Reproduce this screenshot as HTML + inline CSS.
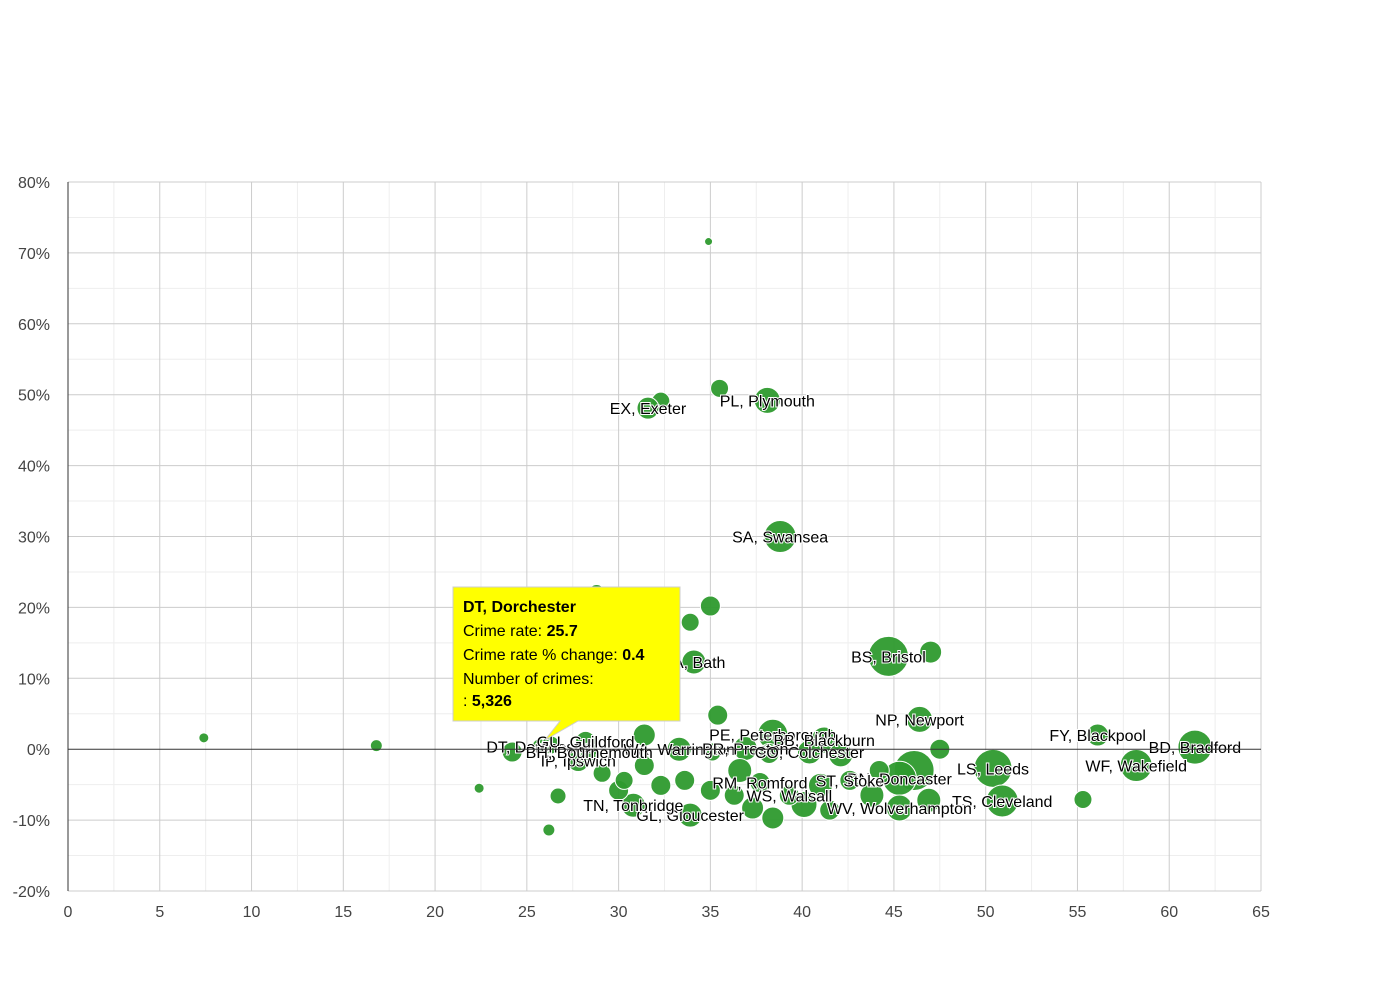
<!DOCTYPE html>
<html><head><meta charset="utf-8"><style>
body{margin:0;background:#fff;font-family:"Liberation Sans",Arial,sans-serif}
svg text{font-family:"Liberation Sans",Arial,sans-serif}
</style></head><body>
<svg id="chart" width="1390" height="980" xmlns="http://www.w3.org/2000/svg">
<g id="grid"></g>
<g id="bubbles"></g>
<g id="labels"></g>
<g id="axes"></g>
<g>
<path d="M453,587 H680 V721 H578 L545,740 L560,721 H453 Z" fill="#ffff00" stroke="#ccc" stroke-width="1"/>
<text x="463" y="612" font-size="16" font-weight="bold">DT, Dorchester</text>
<text x="463" y="636" font-size="16">Crime rate: <tspan font-weight="bold">25.7</tspan></text>
<text x="463" y="660" font-size="16">Crime rate % change: <tspan font-weight="bold">0.4</tspan></text>
<text x="463" y="684" font-size="16">Number of crimes:</text>
<text x="463" y="706" font-size="16">: <tspan font-weight="bold">5,326</tspan></text>
</g>
</svg>
<script>
const crimeRate=[7.4,16.8,22.4,26.2,26.7,25.7,24.2,28.8,35,33.9,34.1,35.5,34.9,32.3,31.6,38.1,38.8,44.7,47,46.4,47.5,56.1,61.4,58.2,50.4,50.9,55.3,35.4,31.4,38.4,41.2,33.3,35.1,36.9,38.2,40.4,42.1,46.1,45.3,43.8,45.3,46.9,40.1,38.4,37.3,33.9,30.8,30,27.8,28.2,29.1,30.3,31.4,32.3,33.6,35,36.3,37.7,39.3,41,42.6,44.2,26.3,28.4,41.5,36.6];
const pctChange=[1.6,0.5,-5.5,-11.4,-6.6,0.4,-0.4,22.1,20.2,17.9,12.3,50.9,71.6,49.1,48.1,49.2,30,13.1,13.7,4.2,0,2,0.3,-2.3,-2.7,-7.3,-7.1,4.8,2,2.1,1.3,0,-0.4,0.1,-0.6,-0.4,-0.8,-3,-4.1,-6.5,-8.3,-7.2,-7.8,-9.7,-8.3,-9.3,-7.9,-5.8,-1.6,1.1,-3.4,-4.4,-2.3,-5.1,-4.4,-5.8,-6.5,-4.7,-6.5,-5.1,-4.4,-3,0.6,-0.4,-8.6,-3];
const crimes=[2080,3000,2080,3000,5330,5326,8320,5330,8320,6740,11990,6740,1330,6740,10070,14070,21310,33300,10070,14070,8320,10070,24060,21310,30050,21310,6740,8320,10070,18730,14070,11990,6740,11990,8320,11990,11990,33300,24060,11990,14070,11990,14070,10070,10070,11990,11990,8320,10070,8320,6740,6740,8320,8320,8320,8320,8320,8320,8320,11990,8320,8320,6740,6740,8320,11990];
const names=["","","","","","DT, Dorchester","","","","","BA, Bath","","","","EX, Exeter","PL, Plymouth","SA, Swansea","BS, Bristol","","NP, Newport","","FY, Blackpool","BD, Bradford","WF, Wakefield","LS, Leeds","TS, Cleveland","","","","PE, Peterborough","BB, Blackburn","WA, Warrington","","PR, Preston","","CO, Colchester","","","DN, Doncaster","","WV, Wolverhampton","","","","","GL, Gloucester","TN, Tonbridge","","IP, Ipswich","GU, Guildford","","","","","","","","RM, Romford","WS, Walsall","","ST, Stoke","","","BH, Bournemouth","",""];
const xTicks=[0,5,10,15,20,25,30,35,40,45,50,55,60,65];
const yTicks=[80,70,60,50,40,30,20,10,0,-10,-20];
const yLabels=["80%","70%","60%","50%","40%","30%","20%","10%","0%","-10%","-20%"];
const X0=68,X1=1261,Y0=891,Y1=182;
const xs=v=>X0+(v-0)/65*(X1-X0);
const ys=v=>Y0-(v+20)/100*(Y0-Y1);
const rs=c=>Math.sqrt(c)*0.1096;
const NS="http://www.w3.org/2000/svg";
function mk(tag,attrs,parent){const e=document.createElementNS(NS,tag);for(const k in attrs)e.setAttribute(k,attrs[k]);parent.appendChild(e);return e;}
const grid=document.getElementById('grid'),axes=document.getElementById('axes');
for(let v=2.5;v<65;v+=5){const l=mk('line',{x1:xs(v),x2:xs(v),y1:Y1,y2:Y0,stroke:'#eeeeee'},grid);}
for(let v=-15;v<80;v+=10){const l=mk('line',{x1:X0,x2:X1,y1:ys(v),y2:ys(v),stroke:'#eeeeee'},grid);}
xTicks.forEach(v=>{const l=mk('line',{x1:xs(v),x2:xs(v),y1:Y1,y2:Y0,stroke:'#cccccc'},grid);
const t=mk('text',{x:xs(v),y:Y0+26,'font-size':16,fill:'#444','text-anchor':'middle'},axes);t.textContent=v;});
yTicks.forEach((v,i)=>{const l=mk('line',{x1:X0,x2:X1,y1:ys(v),y2:ys(v),stroke:v===0?'#333':'#cccccc'},v===0?axes:grid);
const t=mk('text',{x:50,y:ys(v)+6,'font-size':16,fill:'#444','text-anchor':'end'},axes);t.textContent=yLabels[i];});
const yl=mk('line',{x1:X0,x2:X0,y1:Y1,y2:Y0,stroke:'#333'},axes);
const bg=document.getElementById('bubbles'),lg=document.getElementById('labels');
crimeRate.forEach((v,i)=>{const sel=i===5;
const c=mk('circle',{cx:xs(v),cy:ys(pctChange[i]),r:rs(crimes[i]),fill:'#2e9a2e',stroke:'#fff','stroke-width':sel?2:1,'fill-opacity':0.95},bg);


if(names[i]){const t=mk('text',{x:xs(v),y:ys(pctChange[i])+6,'font-size':16,fill:'#000','text-anchor':'middle',stroke:'#fff','stroke-width':2,'paint-order':'stroke'},lg);t.textContent=names[i];

}});
</script>
</body></html>
